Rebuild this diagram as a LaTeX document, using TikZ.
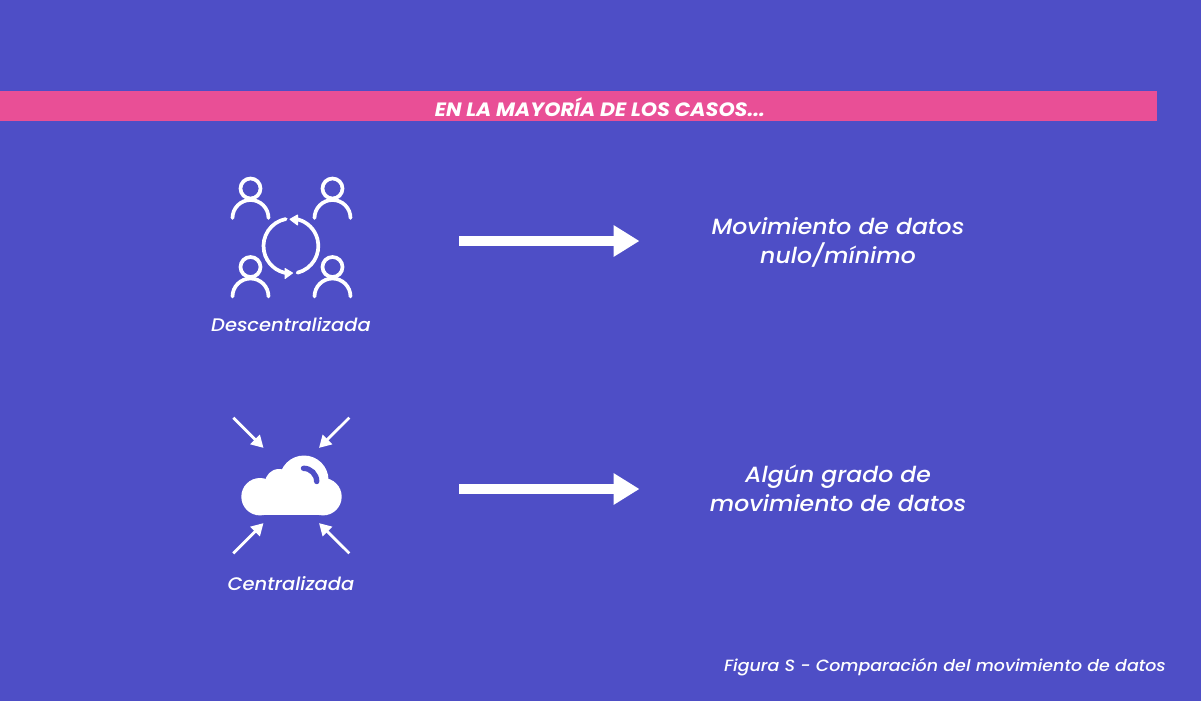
\documentclass[tikz,border=0pt]{standalone}
\usepackage{fontspec}
\setmainfont{Poppins}[FakeStretch=1.07,ItalicFont={Poppins Medium Italic},BoldItalicFont={Poppins Bold Italic}]
\usetikzlibrary{arrows.meta}
\definecolor{bgc}{HTML}{4E4EC6}
\definecolor{pinkc}{HTML}{E94F96}
\tikzset{
 person/.pic={
  \draw[ico] (0,0) circle (10);
  \draw[ico] (-18,29.5) arc[start angle=180,end angle=360,radius=18];
 },
 ico/.style={draw=white,line width=3.7pt,line cap=round},
 thin arrow/.style={draw=white,line width=2.8pt,-{Triangle[width=13pt,length=12pt]}},
 big arrow/.style={draw=white,line width=10pt,-{Triangle[width=30pt,length=26pt]}},
 lab/.style={text=white,font=\itshape\fontsize{18.2}{18.2}\selectfont,inner sep=0pt,anchor=center},
 big lab/.style={text=white,font=\itshape\fontsize{22}{29}\selectfont,inner sep=0pt,align=center,anchor=center},
}
\begin{document}
\begin{tikzpicture}[x=1pt,y=-1pt]
\useasboundingbox (0,0) rectangle (1201,701);
\fill[bgc] (0,0) rectangle (1201,701);
\fill[pinkc] (0,91) rectangle (1157,121);
\node[text=white,font=\bfseries\itshape\fontsize{19.3}{19.3}\selectfont,inner sep=0pt] (head) at (600,107.5) {EN LA MAYORÍA DE LOS CASOS...};
% people
\pic at (250.5,188.5) {person};
\pic at (332.5,188.5) {person};
\pic at (250.5,267) {person};
\pic at (332.5,267) {person};
% cycle
\draw[ico] (291,246) ++(-101:27.5) arc[start angle=-101,end angle=-265,radius=27.5];
\draw[ico] (297.5,272.7) arc[start angle=76,end angle=-76,radius=27.5];
\fill[white,draw=white,line width=1pt,line join=round] (290,219.3) -- (297.5,215) -- (297.5,225) -- cycle;
\fill[white,draw=white,line width=1pt,line join=round] (292.5,273) -- (285,268.5) -- (285,278.5) -- cycle;
\node[lab] (desc) at (291,325) {Descentralizada};
% cloud
\fill[white] (260,496.7) circle (18.7);
\fill[white] (323,496.7) circle (18.7);
\fill[white] (304,480) circle (24.5);
\fill[white] (279,483) circle (14);
\fill[white] (260,490) rectangle (323,515.4);
\fill[white] (279,478) rectangle (304,500);
\draw[draw=bgc,line width=5.4pt,line cap=round] (303.5,468.3) arc[start angle=-90,end angle=0,radius=13.2];
\coordinate (c1) at (233.3,417.7); \coordinate (t1) at (263.5,447.9);
\coordinate (c2) at (349.3,417.7); \coordinate (t2) at (319,447.9);
\coordinate (c3) at (233.3,553.3); \coordinate (t3) at (263.5,523.1);
\coordinate (c4) at (349.3,553.3); \coordinate (t4) at (319,523.1);
\draw[thin arrow] (c1) -- (t1);
\draw[thin arrow] (c2) -- (t2);
\draw[thin arrow] (c3) -- (t3);
\draw[thin arrow] (c4) -- (t4);
\node[lab] (cent) at (291,583.5) {Centralizada};
% big arrows
\coordinate (a1) at (459,241); \coordinate (b1) at (639.5,241);
\coordinate (a2) at (459,489); \coordinate (b2) at (639.5,489);
\draw[big arrow] (a1) -- (b1);
\draw[big arrow] (a2) -- (b2);
\node[big lab] (m1) at (838,242) {Movimiento de datos\\nulo/mínimo};
\node[big lab] (m2) at (838,488) {Algún grado de\\movimiento de datos};
\node[text=white,font=\itshape\fontsize{16.3}{16.3}\selectfont,inner sep=0pt,anchor=east] (fig) at (1166,667) {Figura S - Comparación del movimiento de datos};
\end{tikzpicture}
\end{document}
